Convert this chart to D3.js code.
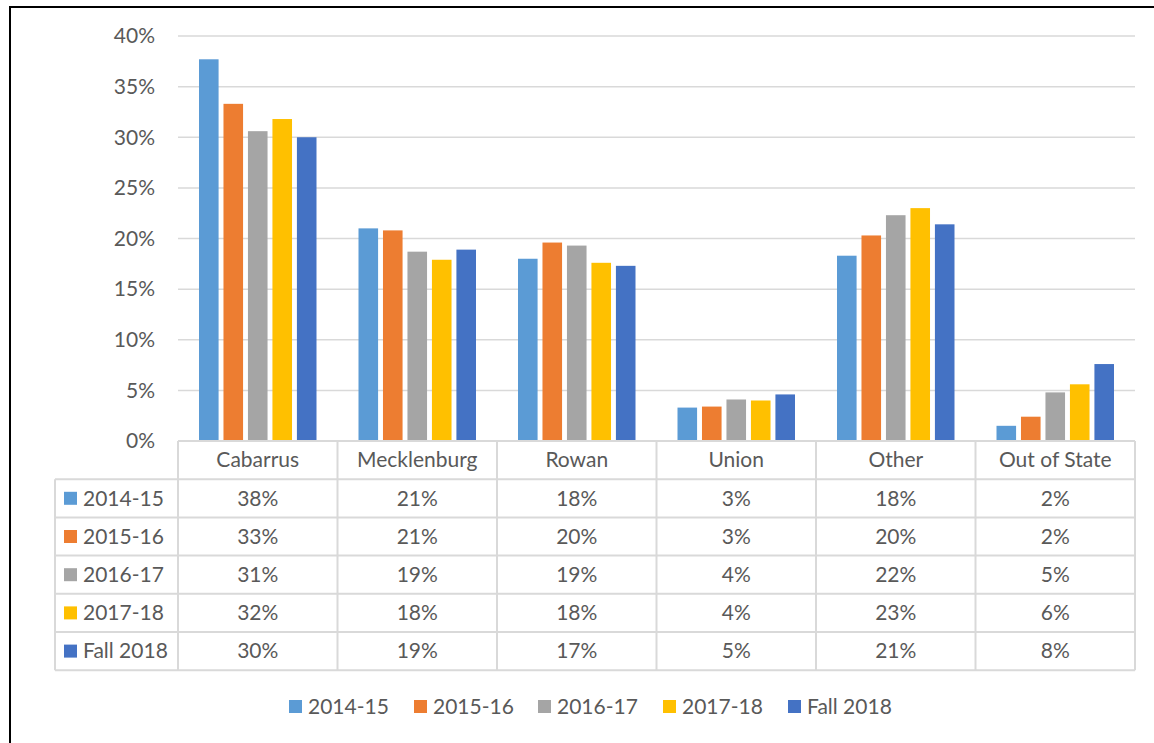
<!DOCTYPE html>
<html><head><meta charset="utf-8">
<script src="https://cdn.jsdelivr.net/npm/d3@7"></script>
<style>
html,body{margin:0;padding:0;background:#fff;}
svg text{font-family:Lato,"Open Sans",sans-serif;fill:#595959;}
</style></head>
<body>
<svg id="c" width="1154" height="743"></svg>
<script>
const categories = ["Cabarrus","Mecklenburg","Rowan","Union","Other","Out of State"];
const seriesNames = ["2014-15","2015-16","2016-17","2017-18","Fall 2018"];
const colors = ["#5B9BD5","#ED7D31","#A5A5A5","#FFC000","#4472C4"];
const s2014 = [0.377,0.210,0.180,0.033,0.183,0.015];
const s2015 = [0.333,0.208,0.196,0.034,0.203,0.024];
const s2016 = [0.306,0.187,0.193,0.041,0.223,0.048];
const s2017 = [0.318,0.179,0.176,0.040,0.230,0.056];
const s2018 = [0.300,0.189,0.173,0.046,0.214,0.076];
const seriesValues = [s2014,s2015,s2016,s2017,s2018];
const yTicks = [0,0.05,0.10,0.15,0.20,0.25,0.30,0.35,0.40];

(function(){
const svg = d3.select("#c");
const pLeft = 178, pRight = 1135, pTop = 36, base = 441;
const fs = 21;

svg.append("rect").attr("x",10).attr("y",7).attr("width",1170).attr("height",770)
  .attr("fill","none").attr("stroke","#000").attr("stroke-width",2);

const y = d3.scaleLinear().domain([0,0.40]).range([base, pTop]);
const x0 = d3.scaleBand().domain(categories).range([pLeft, pRight]).padding(0);
const gpad = 21;
const x1 = d3.scaleBand().domain(seriesNames).range([gpad, x0.bandwidth()-gpad]).paddingInner(0.2).paddingOuter(0);

svg.append("g").selectAll("line").data(yTicks.slice(1)).join("line")
  .attr("x1",pLeft).attr("x2",pRight)
  .attr("y1",d=>y(d)).attr("y2",d=>y(d))
  .attr("stroke","#D9D9D9").attr("stroke-width",1.5);

const pct = d3.format(".0%");
svg.append("g").selectAll("text").data(yTicks).join("text")
  .attr("x",155).attr("y",d=>y(d)).attr("dy","0.35em")
  .attr("text-anchor","end").attr("font-size",fs).text(d=>pct(d));

seriesNames.forEach((s,si)=>{
  svg.append("g").selectAll("rect").data(seriesValues[si]).join("rect")
    .attr("x",(d,i)=>x0(categories[i])+x1(s))
    .attr("width",x1.bandwidth())
    .attr("y",d=>y(d))
    .attr("height",d=>base-y(d))
    .attr("fill",colors[si]);
});

const rowH = 38.2;
const tLeft = 55;
const tTop = base;
const rowsTop = base + rowH;
const tBottom = rowsTop + rowH*seriesNames.length;
const tg = svg.append("g");
const lineC = "#D9D9D9", lw = 2;
tg.append("line").attr("x1",pLeft).attr("x2",pRight).attr("y1",tTop).attr("y2",tTop).attr("stroke",lineC).attr("stroke-width",lw);
for(let r=0;r<=seriesNames.length;r++){
  const yy = rowsTop + r*rowH;
  tg.append("line").attr("x1",tLeft).attr("x2",pRight).attr("y1",yy).attr("y2",yy).attr("stroke",lineC).attr("stroke-width",lw);
}
tg.append("line").attr("x1",tLeft).attr("x2",tLeft).attr("y1",rowsTop).attr("y2",tBottom).attr("stroke",lineC).attr("stroke-width",lw);
categories.forEach(c=>{
  tg.append("line").attr("x1",x0(c)).attr("x2",x0(c)).attr("y1",tTop).attr("y2",tBottom).attr("stroke",lineC).attr("stroke-width",lw);
});
tg.append("line").attr("x1",pRight).attr("x2",pRight).attr("y1",tTop).attr("y2",tBottom).attr("stroke",lineC).attr("stroke-width",lw);

tg.selectAll("text.hdr").data(categories).join("text").attr("class","hdr")
  .attr("x",c=>x0(c)+x0.bandwidth()/2).attr("y",tTop+rowH/2).attr("dy","0.35em")
  .attr("text-anchor","middle").attr("font-size",fs).text(c=>c);

seriesNames.forEach((s,si)=>{
  const cy = rowsTop + si*rowH + rowH/2;
  tg.append("rect").attr("x",64).attr("y",cy-6.5).attr("width",13).attr("height",13).attr("fill",colors[si]);
  tg.append("text").attr("x",83).attr("y",cy).attr("dy","0.35em").attr("font-size",fs).text(s);
  tg.append("g").selectAll("text").data(seriesValues[si]).join("text")
    .attr("x",(d,i)=>x0(categories[i])+x0.bandwidth()/2).attr("y",cy).attr("dy","0.35em")
    .attr("text-anchor","middle").attr("font-size",fs).text(d=>pct(d));
});

const legX = [289,414,538,663,788];
const lg = svg.append("g");
seriesNames.forEach((s,si)=>{
  lg.append("rect").attr("x",legX[si]).attr("y",700).attr("width",13).attr("height",13).attr("fill",colors[si]);
  lg.append("text").attr("x",legX[si]+19).attr("y",706.5).attr("dy","0.35em").attr("font-size",fs).text(s);
});
})();
</script>
</body></html>
